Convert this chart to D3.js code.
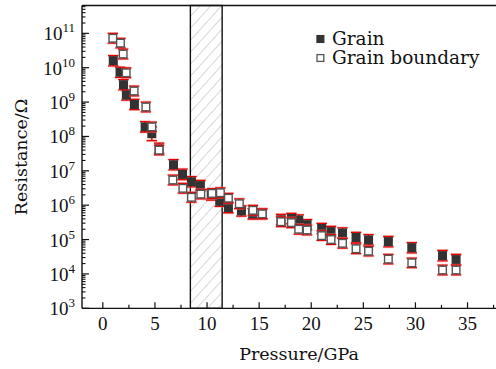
<!DOCTYPE html>
<html><head><meta charset="utf-8">
<script src="https://cdn.jsdelivr.net/npm/d3@7"></script>
<style>body{margin:0;background:#fff}svg{display:block}</style>
</head><body>
<svg id="c" width="496" height="369"></svg>
<script>
// ---- data ----
const grainP = [1.0,1.65,1.98,2.26,3.03,4.06,4.7,5.4,6.78,7.65,8.5,9.36,10.4,11.22,12.05,13.3,14.38,15.3,17.1,18.1,18.8,19.6,21.0,21.9,23.0,24.3,25.5,27.4,29.65,32.6,33.9];
const grainR = [1.6e10,7.4e9,3.2e9,1.6e9,8.5e8,1.9e8,1.2e8,4.5e7,1.5e7,7.9e6,4.8e6,3.7e6,2.0e6,1.3e6,8.5e5,6.8e5,5.6e5,5.6e5,3.8e5,4.1e5,3.7e5,2.7e5,2.1e5,1.7e5,1.55e5,1.15e5,9.8e4,8.7e4,5.8e4,3.4e4,2.6e4];
const grainErr = [0.15,0.15,0.15,0.15,0.15,0.15,0.2,0.15,0.15,0.15,0.15,0.15,0.15,0.15,0.15,0.15,0.15,0.15,0.15,0.15,0.15,0.15,0.15,0.15,0.15,0.15,0.15,0.15,0.15,0.15,0.15];
const boundaryP = [0.96,1.69,1.95,2.24,3.0,4.13,4.7,5.4,6.72,7.68,8.5,9.4,10.48,11.28,12.05,13.1,14.4,15.3,17.1,18.1,18.8,19.6,21.0,21.9,23.0,24.3,25.5,27.4,29.65,32.6,33.9];
const boundaryR = [7.2e10,5.2e10,2.5e10,7.1e9,2.1e9,7.2e8,1.9e8,4.0e7,5.4e6,3.1e6,1.7e6,2.1e6,2.2e6,2.3e6,1.6e6,1.1e6,7.1e5,5.6e5,3.3e5,3.1e5,2.0e5,1.9e5,1.3e5,1.0e5,7.8e4,5.4e4,4.6e4,2.7e4,2.1e4,1.3e4,1.3e4];
const boundaryErr = [0.14,0.14,0.14,0.14,0.14,0.14,0.14,0.14,0.14,0.14,0.14,0.14,0.14,0.14,0.14,0.14,0.14,0.14,0.14,0.14,0.14,0.14,0.14,0.14,0.14,0.14,0.14,0.14,0.14,0.14,0.14];
const xTicks = [0,5,10,15,20,25,30,35];
const yExponents = [3,4,5,6,7,8,9,10,11];
const hatchRange = [8.4, 11.45];
const seriesNames = ["Grain", "Grain boundary"];

// ---- layout ----
const svg = d3.select("#c");
const L = 82, T = 5.5, B = 308.3;
const x = d3.scaleLinear().domain([-2, 38]).range([L, L + 40*10.42]);
const y = d3.scaleLog().domain([1e3, Math.pow(10, 11.81)]).range([B, T]);
const R = x.range()[1];

// hatch pattern
const defs = svg.append("defs");
const pat = defs.append("pattern").attr("id","hatch").attr("patternUnits","userSpaceOnUse")
  .attr("width",8).attr("height",8).attr("patternTransform","rotate(42)");
pat.append("line").attr("x1",0).attr("y1",0).attr("x2",0).attr("y2",8)
  .attr("stroke","#b5b5b5").attr("stroke-width",1.1);

svg.append("rect").attr("x", x(hatchRange[0])).attr("y", T)
  .attr("width", x(hatchRange[1]) - x(hatchRange[0])).attr("height", B - T)
  .attr("fill","url(#hatch)").attr("stroke","#111").attr("stroke-width",1.4);

// top frame line
svg.append("line").attr("x1",L).attr("x2",R).attr("y1",T).attr("y2",T).attr("stroke","#111").attr("stroke-width",1.3);

// x axis
const xMinor = d3.range(0, 38, 2.5).filter(v => v % 5 !== 0);
const gx = svg.append("g");
gx.selectAll(".xmaj").data(xTicks).join("line")
  .attr("x1", d=>x(d)).attr("x2", d=>x(d)).attr("y1", B).attr("y2", B-6)
  .attr("stroke","#111").attr("stroke-width",1.2);
gx.selectAll(".xmin").data(xMinor).join("line")
  .attr("x1", d=>x(d)).attr("x2", d=>x(d)).attr("y1", B).attr("y2", B-3.5)
  .attr("stroke","#111").attr("stroke-width",1.2);
gx.selectAll("text").data(xTicks).join("text")
  .attr("x", d=>x(d)).attr("y", B+22).attr("text-anchor","middle")
  .attr("font-family","Liberation Serif").attr("font-size",19).attr("fill","#111")
  .text(d=>d);
svg.append("line").attr("x1",L).attr("x2",R).attr("y1",B).attr("y2",B).attr("stroke","#111").attr("stroke-width",1.3);

// y axis
const gy = svg.append("g");
const yMinor = [];
yExponents.forEach(e => { for (let k=2;k<=9;k++){ const v=k*Math.pow(10,e); if (v<=y.domain()[1]) yMinor.push(v);} });
gy.selectAll(".ymaj").data(yExponents).join("line")
  .attr("x1",L).attr("x2",L+7).attr("y1",d=>y(Math.pow(10,d))).attr("y2",d=>y(Math.pow(10,d)))
  .attr("stroke","#111").attr("stroke-width",1.2);
gy.selectAll(".ymin").data(yMinor).join("line")
  .attr("x1",L).attr("x2",L+3.5).attr("y1",d=>y(d)).attr("y2",d=>y(d))
  .attr("stroke","#111").attr("stroke-width",1.1);
const yl = gy.selectAll("text").data(yExponents).join("text")
  .attr("x", L-7).attr("y", d=>y(Math.pow(10,d))+7).attr("text-anchor","end")
  .attr("font-family","Liberation Serif").attr("font-size",19).attr("fill","#111");
yl.append("tspan").text("10");
yl.append("tspan").attr("dy",-8).attr("font-size",13).text(d=>d);
svg.append("line").attr("x1",L).attr("x2",L).attr("y1",T).attr("y2",B).attr("stroke","#111").attr("stroke-width",1.4);

// axis titles
svg.append("text").attr("transform",`translate(27,${157}) rotate(-90)`).attr("text-anchor","middle")
  .attr("font-family","DejaVu Serif").attr("font-size",17.5).attr("fill","#111").text("Resistance/Ω");
svg.append("text").attr("x",299).attr("y",360).attr("text-anchor","middle")
  .attr("font-family","DejaVu Serif").attr("font-size",17.5).attr("fill","#111").text("Pressure/GPa");

// series
function drawSeries(P, Rv, E, filled) {
  const g = svg.append("g");
  const pts = P.map((p,i)=>({p, r:Rv[i], e:E[i]}));
  const hi = d => y(d.r*Math.pow(10,d.e)), lo = d => y(d.r/Math.pow(10,d.e));
  const eg = g.append("g");
  [["#ff8080",2.8,0.5],["#e00000",1.3,1]].forEach(([c,w,o])=>{
    eg.append("g").selectAll("path").data(pts).join("path")
      .attr("d", d=>`M${x(d.p)},${hi(d)}V${lo(d)}M${x(d.p)-5.2},${hi(d)}H${x(d.p)+5.2}M${x(d.p)-5.2},${lo(d)}H${x(d.p)+5.2}`)
      .attr("fill","none").attr("stroke",c).attr("stroke-width",w).attr("stroke-opacity",o);
  });
  g.append("g").selectAll("rect").data(pts).join("rect")
    .attr("x", d=>x(d.p)-3.8).attr("y", d=>y(d.r)-3.8).attr("width",7.6).attr("height",7.6)
    .attr("fill", filled ? "#333" : "#fff").attr("stroke", filled ? "#333" : "#555").attr("stroke-width",1.4);
}
drawSeries(grainP, grainR, grainErr, true);
drawSeries(boundaryP, boundaryR, boundaryErr, false);

// legend
const leg = svg.append("g").attr("font-family","DejaVu Serif").attr("font-size",18.5).attr("fill","#111");
seriesNames.forEach((n,i)=>{
  const yy = 39 + i*19;
  leg.append("rect").attr("x",317).attr("y",yy-3.4).attr("width",6.8).attr("height",6.8)
    .attr("fill", i===0 ? "#333" : "#fff").attr("stroke", i===0 ? "#333" : "#555").attr("stroke-width",1.3);
  leg.append("text").attr("x",332).attr("y",yy+6).text(n);
});
</script>
</body></html>
